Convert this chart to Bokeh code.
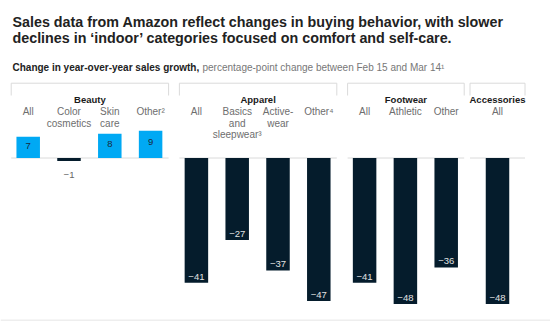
from bokeh.plotting import figure
from bokeh.models import Range1d, ColumnDataSource
from bokeh.embed import file_html
from bokeh.resources import INLINE
from bokeh.core.properties import value

# ---------------- data ----------------
title_lines = [
    "Sales data from Amazon reflect changes in buying behavior, with slower",
    "declines in \u2018indoor\u2019 categories focused on comfort and self-care.",
]
subtitle_bold = "Change in year-over-year sales growth,"
subtitle_rest = "percentage-point change between Feb 15 and Mar 14\u00b9"

groups = ["Beauty", "Apparel", "Footwear", "Accessories"]
group_of = ["Beauty"] * 4 + ["Apparel"] * 4 + ["Footwear"] * 3 + ["Accessories"]
sub_labels = ["All", "Color\ncosmetics", "Skin\ncare", "Other\u00b2",
              "All", "Basics\nand\nsleepwear\u00b3", "Active-\nwear", "Other\u2074",
              "All", "Athletic", "Other",
              "All"]
values = [7, -1, 8, 9, -41, -27, -37, -47, -41, -48, -36, -48]

# ---------------- layout ----------------
W, H = 550, 321
PX_PER_UNIT = 3.04
BASE_PX = 157.5


def vy(px):
    return (BASE_PX - px) / PX_PER_UNIT


SLOT = 40.8
X0 = 27.7
GROUP_GAP = {"Beauty": 0, "Apparel": 5, "Footwear": 5, "Accessories": 10.5}
BAR_W = 23.5
FONT = "Liberation Sans"
CYAN = "#00a9f4"
NAVY = "#051c2c"
LINE = "#dadada"

xs = []
shift = 0.0
prev = None
for i, g in enumerate(group_of):
    if g != prev:
        shift += GROUP_GAP[g]
        prev = g
    xs.append(X0 + SLOT * i + shift)

colors = [CYAN if v > 0 else NAVY for v in values]

p = figure(width=W, height=H, output_backend="svg", toolbar_location=None,
           x_range=Range1d(0, W), y_range=Range1d(vy(H), vy(0)),
           x_axis_type=None, y_axis_type=None, min_border=0)
p.min_border_left = p.min_border_right = p.min_border_top = p.min_border_bottom = 0
p.grid.visible = False
p.outline_line_color = None
p.background_fill_color = "white"
p.border_fill_color = "white"

# bottom grey strip
p.quad(left=[0], right=[W], top=[vy(319)], bottom=[vy(H)], color="#eeeeee", line_color=None)

# group boxes
for g in groups:
    gx = [x for x, gg in zip(xs, group_of) if gg == g]
    left, right = gx[0] - 17, gx[-1] + 18
    if right - left < 55:
        c = (gx[0] + gx[-1]) / 2
        left, right = c - 27.5, c + 27.5
    top = vy(82.7)
    p.segment(x0=[left, left, right, left], y0=[top, top, top, 0],
              x1=[right, left, right, right], y1=[top, vy(95), vy(95), 0],
              line_color=LINE, line_width=1)
    p.text(x=[(left + right) / 2], y=[vy(98.7)], text=[g], text_font=value(FONT),
           text_font_style="bold", text_font_size="9.5px", text_color="#1a1a1a",
           text_align="center", text_baseline="alphabetic")

# bars
src = ColumnDataSource(dict(x=xs, v=values, c=colors, lab=sub_labels))
p.vbar(x="x", top="v", bottom=0, width=BAR_W, color="c", line_color=None, source=src)

# sub labels
p.text(x="x", y=vy(105.5), text="lab", source=src, text_font=value(FONT),
       text_font_size="10px", text_color="#6e6e6e", text_align="center",
       text_baseline="top", text_line_height=1.05)

# value labels
pos_x = [x for x, v in zip(xs, values) if v > 0]
pos_v = [v for v in values if v > 0]
p.text(x=pos_x, y=[v / 2 + 0.6 for v in pos_v], text=[str(v) for v in pos_v],
       text_font=value(FONT), text_font_size="9.5px", text_color="#1a2a3a",
       text_align="center", text_baseline="middle")

big_x = [x for x, v in zip(xs, values) if v < -5]
big_v = [v for v in values if v < -5]
p.text(x=big_x, y=[v + 6 / PX_PER_UNIT for v in big_v], text=["\u2212%d" % -v for v in big_v],
       text_font=value(FONT), text_font_size="9.5px", text_color="#e2e2e2",
       text_align="center", text_baseline="alphabetic")

small_x = [x for x, v in zip(xs, values) if -5 <= v < 0]
small_v = [v for v in values if -5 <= v < 0]
p.text(x=small_x, y=[v - 13.5 / PX_PER_UNIT for v in small_v], text=["\u2212%d" % -v for v in small_v],
       text_font=value(FONT), text_font_size="9.5px", text_color="#666666",
       text_align="center", text_baseline="alphabetic")

# title & subtitle
p.text(x=[12, 12], y=[vy(21), vy(37.5)], text=title_lines, text_font=value(FONT),
       text_font_style="bold", text_font_size="14.3px", text_color="#222222",
       text_align="left", text_baseline="alphabetic")
p.text(x=[12], y=[vy(66.5)], text=[subtitle_bold], text_font=value(FONT),
       text_font_style="bold", text_font_size="10px", text_color="#222222",
       text_align="left", text_baseline="alphabetic")
p.text(x=[202], y=[vy(66.5)], text=[subtitle_rest], text_font=value(FONT),
       text_font_size="10px", text_color="#777777",
       text_align="left", text_baseline="alphabetic")

open("out.html", "w").write(file_html(p, INLINE))
